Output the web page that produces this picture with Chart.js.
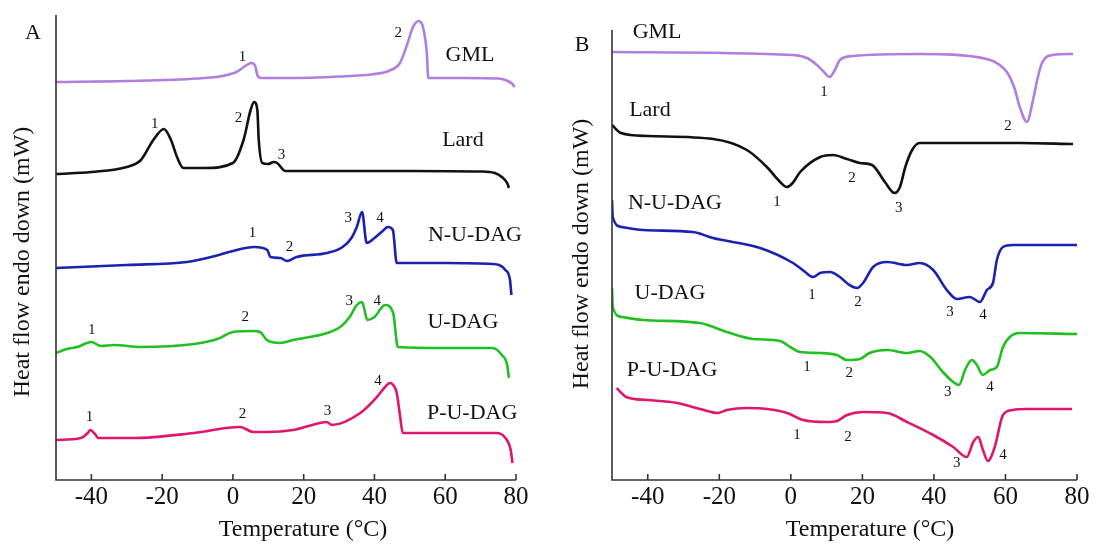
<!DOCTYPE html>
<html>
<head>
<meta charset="utf-8">
<script src="https://cdn.jsdelivr.net/npm/chart.js@4/dist/chart.umd.min.js"></script>
<style>
  body { margin: 0; background: #fff; }
  #wrap { position: relative; width: 1096px; height: 544px; }
  canvas { position: absolute; top: 0; }
  #chartA { left: 0; }
  #chartB { left: 548px; }
</style>
</head>
<body>
<div id="wrap">
  <canvas id="chartA" width="548" height="544"></canvas>
  <canvas id="chartB" width="548" height="544"></canvas>
</div>
<script>
// temperature axis (°C)
const tempTicks = [-40, -20, 0, 20, 40, 60, 80];

// Panel A: heating curves, [temperature, offset heat flow (a.u.)]
const gmlA = [[-50,398],[-30,399],[-10,401.5],[-3,404],[1,408],[3.5,414],[5.2,417],[6.3,414],[7,404],[8,402],[15,402],[30,403.5],[40,406],[44,409],[47.2,417],[49,433],[50.9,453],[52.5,459],[53.7,453],[54.8,427],[55.2,402],[65,402],[75,401.5],[77,400],[79,396],[79.6,393]];
const lardA = [[-50,306],[-40,308],[-30,313],[-26,320],[-22.5,340],[-19.5,351],[-17.5,340],[-15.8,323],[-14,312],[-8,312],[0,317],[3,340],[5,370],[6,378],[6.9,370],[7.3,340],[8.3,317],[10,316],[11.5,318],[12.5,317],[14.8,309],[30,309],[50,309],[70,308.5],[74,307],[76,303],[77.5,297],[78,292]];
const nudagA = [[-50,212],[-30,215],[-13,218],[-5,224],[0,229],[6,233],[9.7,230],[10.6,223],[13.4,222],[15.3,219],[18,223],[26.6,227],[31,233],[33.5,242],[35,253],[36.5,268],[37.8,237],[40,242],[42,248],[43.8,253],[45.2,250],[46.3,217],[60,217],[73.4,216],[77,210],[78.3,200],[78.7,185]];
const udagA = [[-50,127],[-47,131],[-44,133],[-40,138],[-37.3,134],[-33.6,135],[-26,133],[-11,136],[-4.4,141],[0,148],[5.8,149],[7.7,148],[9.6,140],[13.4,137],[17,140],[26.6,147],[30.3,153],[33,163],[35,175],[36.5,178],[38,160],[40,163],[43,175],[45.3,167],[46.6,133],[60,132],[73.4,132],[76,125],[77.5,115],[78,102]];
const pudagA = [[-50,40],[-43,42],[-41,47],[-40.3,50],[-39,46],[-38,42],[-28,42],[-11,47],[2,53],[5.8,48],[9.6,48],[17,50],[24.6,57],[26.5,58],[28,55],[36,67],[40.7,83],[43,93],[44.4,97],[45.5,94],[46.3,87],[47.2,65],[48,47],[60,47],[74.5,47],[77,42],[78.5,30],[79,17]];

// Panel B: cooling curves
const gmlB = [[-50,428],[0.6,425],[4.5,422],[7.3,415],[9,409],[10.9,403],[12.3,410],[13.7,420],[17.4,424],[36,426],[54.8,421],[58,416],[60.4,408],[62.5,392],[64,373],[66,358],[67.7,380],[69,402],[70.2,417],[73.3,425],[78.9,426]];
const lardB = [[-50,355],[-47.5,347],[-40,344],[-21.7,341],[-12.3,330],[-6.7,313],[-3.5,300],[-1.1,293],[0.5,297],[2.6,308],[8.2,323],[11.8,325],[15.7,321],[19.3,317],[22.7,315],[26.3,298],[29,287],[30.5,293],[32,313],[33.9,330],[36,337],[64,337],[78.9,336]];
const nudagB = [[-50,280],[-49.8,263],[-47.3,253],[-41.3,250],[-27.4,248],[-21.8,242],[-8.6,232],[0.6,217],[4,208],[6.2,203],[8.2,207],[11,208],[13.7,203],[16,196],[18.5,192],[20.2,197],[23,213],[26.9,218],[32.5,215],[36,217],[39.8,210],[43.6,190],[46.4,181],[50,183],[52.9,178],[54.8,190],[56.5,197],[57.6,220],[59.3,233],[62,235],[80,235]];
const udagB = [[-50,192],[-49.8,173],[-47.3,163],[-41.3,160],[-25.4,157],[-17.9,148],[-10.6,141],[-3,139],[-0.2,133],[2.6,128],[8.2,127],[12.9,125],[15.7,120],[19.3,121],[22,127],[26.9,130],[32.5,127],[36,129],[39,123],[42.5,108],[45.4,98],[47,95],[48.7,110],[50.6,120],[52,115],[53.7,105],[55.7,110],[57.6,113],[59.3,133],[61.2,143],[64,147],[80,146]];
const pudagB = [[-48.7,92],[-46,83],[-40.2,80],[-31.8,77],[-25.4,71],[-20.4,67],[-17.9,70],[-12.3,72],[-6.7,71],[-1,67],[3.4,60],[10,58],[12.9,59],[15.7,65],[20.2,68],[26.9,67],[32.5,58],[39.8,45],[45.4,33],[49.2,23],[51,38],[52.4,43],[53.7,30],[55.1,19],[57,33],[59.3,65],[62,70],[66,71],[78.6,71]];

const seriesNames = ['GML', 'Lard', 'N-U-DAG', 'U-DAG', 'P-U-DAG'];
const seriesColors = ['#b07ee0', '#111111', '#1a22b0', '#22bf22', '#e0156e'];

// text marks [text, temperature, heat flow]
const notesA = [
  ['1', 2.7, 423], ['2', 46.7, 447], ['GML', 67, 425],
  ['1', -22.1, 356], ['2', 1.6, 362], ['3', 13.7, 325], ['Lard', 65, 340],
  ['1', 5.5, 247], ['2', 16, 233], ['3', 32.6, 262], ['4', 41.6, 262], ['N-U-DAG', 68.4, 245],
  ['1', -39.9, 150], ['2', 3.5, 163], ['3', 32.9, 179], ['4', 40.8, 179], ['U-DAG', 65, 158],
  ['1', -40.5, 63], ['2', 2.7, 66], ['3', 26.7, 69], ['4', 41, 99], ['P-U-DAG', 67.6, 67]
];
const notesB = [
  ['GML', -37.4, 448], ['1', 9.3, 388], ['2', 60.7, 354],
  ['Lard', -39.4, 370], ['1', -3.9, 278], ['2', 17.1, 302], ['3', 30.2, 272],
  ['N-U-DAG', -32.4, 277], ['1', 5.9, 185], ['2', 18.8, 178], ['3', 44.5, 168], ['4', 53.7, 165],
  ['U-DAG', -33.8, 187], ['1', 4.5, 113], ['2', 16.3, 107], ['3', 43.9, 88], ['4', 55.7, 93],
  ['P-U-DAG', -33.2, 110], ['1', 1.7, 45], ['2', 16, 43], ['3', 46.4, 17], ['4', 59.3, 25]
];

const SERIF = '"Liberation Serif", "DejaVu Serif", serif';

const axesPlugin = {
  id: 'dscAxes',
  afterDraw(chart, args, opts) {
    const { ctx, chartArea: a, scales: { x, y } } = chart;
    ctx.save();
    ctx.strokeStyle = '#333';
    ctx.lineWidth = 1.6;
    ctx.beginPath();
    ctx.moveTo(a.left, a.top);
    ctx.lineTo(a.left, a.bottom);
    ctx.lineTo(a.right, a.bottom);
    ctx.stroke();
    ctx.fillStyle = '#111';
    ctx.font = '25px ' + SERIF;
    ctx.textAlign = 'center';
    ctx.textBaseline = 'middle';
    tempTicks.forEach(t => {
      const px = x.getPixelForValue(t);
      ctx.beginPath();
      ctx.moveTo(px, a.bottom);
      ctx.lineTo(px, a.bottom - 6);
      ctx.stroke();
      ctx.fillText(String(t), px, a.bottom + 17);
    });
    ctx.font = '24px ' + SERIF;
    ctx.fillText('Temperature (\u00B0C)', opts.xTitleX, a.bottom + 50);
    ctx.save();
    ctx.translate(opts.yTitle[0], opts.yTitle[1]);
    ctx.rotate(-Math.PI / 2);
    ctx.fillText('Heat flow endo down (mW)', 0, 0);
    ctx.restore();
    ctx.font = '22px ' + SERIF;
    ctx.fillText(opts.letter, opts.letterPos[0], opts.letterPos[1]);
    opts.notes.forEach(([txt, t, v]) => {
      ctx.font = (txt.length > 1 ? '22px ' : '15px ') + SERIF;
      ctx.fillText(txt, x.getPixelForValue(t), y.getPixelForValue(v));
    });
    ctx.restore();
  }
};

function makeChart(id, curves, yMax, padding, axOpts) {
  return new Chart(document.getElementById(id), {
    type: 'line',
    data: {
      datasets: curves.map((pts, i) => ({
        label: seriesNames[i],
        data: pts.map(p => ({ x: p[0], y: p[1] })),
        borderColor: seriesColors[i],
        borderWidth: 2.6,
        pointRadius: 0,
        cubicInterpolationMode: 'monotone',
        fill: false
      }))
    },
    options: {
      responsive: false,
      animation: false,
      layout: { padding: padding },
      plugins: { legend: { display: false }, tooltip: { enabled: false }, dscAxes: axOpts },
      scales: {
        x: { type: 'linear', min: -50, max: 80, display: false },
        y: { min: 0, max: yMax, display: false }
      }
    },
    plugins: [axesPlugin]
  });
}

makeChart('chartA', [gmlA, lardA, nudagA, udagA, pudagA], 465,
  { left: 56, right: 32, top: 15, bottom: 64 },
  { letter: 'A', letterPos: [33, 33], yTitle: [23, 262], xTitleX: 303, notes: notesA });

makeChart('chartB', [gmlB, lardB, nudagB, udagB, pudagB], 450,
  { left: 64, right: 19, top: 30, bottom: 64 },
  { letter: 'B', letterPos: [34, 45], yTitle: [34, 254], xTitleX: 322, notes: notesB });
</script>
</body>
</html>
